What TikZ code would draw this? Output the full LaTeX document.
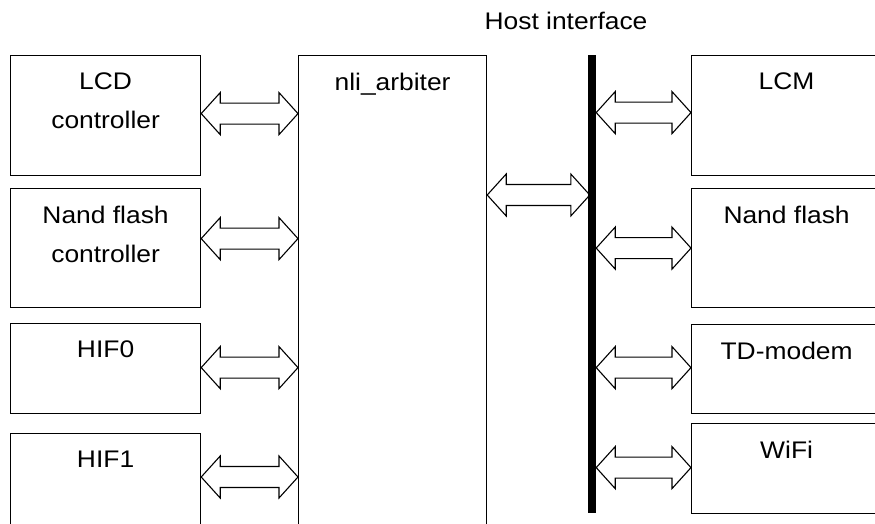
\documentclass[tikz,border=0pt]{standalone}
\usepackage{fontspec}
\setmainfont[FakeStretch=1.1]{Liberation Sans}
\usetikzlibrary{calc}
\begin{document}
\begin{tikzpicture}[x=1pt,y=-1pt,
    blk/.style={draw, line width=1.2pt, anchor=north west, inner sep=0, minimum width=190pt},
    lbl/.style={anchor=north, inner sep=0, yshift=-18pt, align=center},
    link/.style={line width=1.1pt, to path={let \p1=(\tikztostart), \p2=(\tikztotarget) in
      (\x1,\y1) -- (\x1+19pt,\y1+21pt) -- (\x1+19pt,\y1+10.5pt) -- (\x2-19pt,\y1+10.5pt)
      -- (\x2-19pt,\y1+21pt) -- (\x2,\y1) -- (\x2-19pt,\y1-21pt) -- (\x2-19pt,\y1-10.5pt)
      -- (\x1+19pt,\y1-10.5pt) -- (\x1+19pt,\y1-21pt) -- cycle}}]
    \fontsize{24}{39}\selectfont
    \useasboundingbox (0,0) rectangle (875,523);
    \clip (0,0) rectangle (875,523);

    % left blocks
    \node[blk, minimum height=120pt, label={[lbl]north:{LCD\\controller}}] (lcd) at (10,55) {};
    \node[blk, minimum height=119pt, label={[lbl]north:{Nand flash\\controller}}] (nfc) at (10,188) {};
    \node[blk, minimum height=90pt, label={[lbl]north:HIF0}] (hif0) at (10,323) {};
    \node[blk, minimum height=130pt, label={[lbl]north:HIF1}] (hif1) at (10,433) {};

    % arbiter and bus
    \node[blk, minimum width=188pt, minimum height=500pt, label={[lbl]north:nli\_arbiter}] (arb) at (298,55) {};
    \node[fill, inner sep=0, minimum width=8pt, minimum height=458pt, anchor=north] (bus) at (592,55) {};
    \node (host) at (566,21) {Host interface};

    % right blocks
    \node[blk, minimum height=120pt, label={[lbl]north:LCM}] (lcm) at (691,55) {};
    \node[blk, minimum height=119pt, label={[lbl]north:Nand flash}] (nf) at (691,188) {};
    \node[blk, minimum height=89pt, label={[lbl]north:TD-modem}] (td) at (691,324) {};
    \node[blk, minimum height=90pt, label={[lbl]north:WiFi}] (wifi) at (691,423) {};

    % links
    \draw[link] ([yshift=2pt]lcd.east) to (arb.west);
    \draw[link] ([yshift=9.5pt]nfc.east) to (arb.west);
    \draw[link] ([yshift=1pt]hif0.east) to (arb.west);
    \draw[link] ([yshift=-44pt]hif1.north east) to (arb.west);
    \draw[link] ([yshift=-140pt]arb.north east) to ([xshift=2pt]bus.west);
    \draw[link] ([yshift=3pt]bus.east |- lcm.west) to (lcm.west);
    \draw[link] (bus.east |- nf.west) to (nf.west);
    \draw[link] ([yshift=1.5pt]bus.east |- td.west) to (td.west);
    \draw[link] ([yshift=1pt]bus.east |- wifi.west) to (wifi.west);
\end{tikzpicture}
\end{document}
